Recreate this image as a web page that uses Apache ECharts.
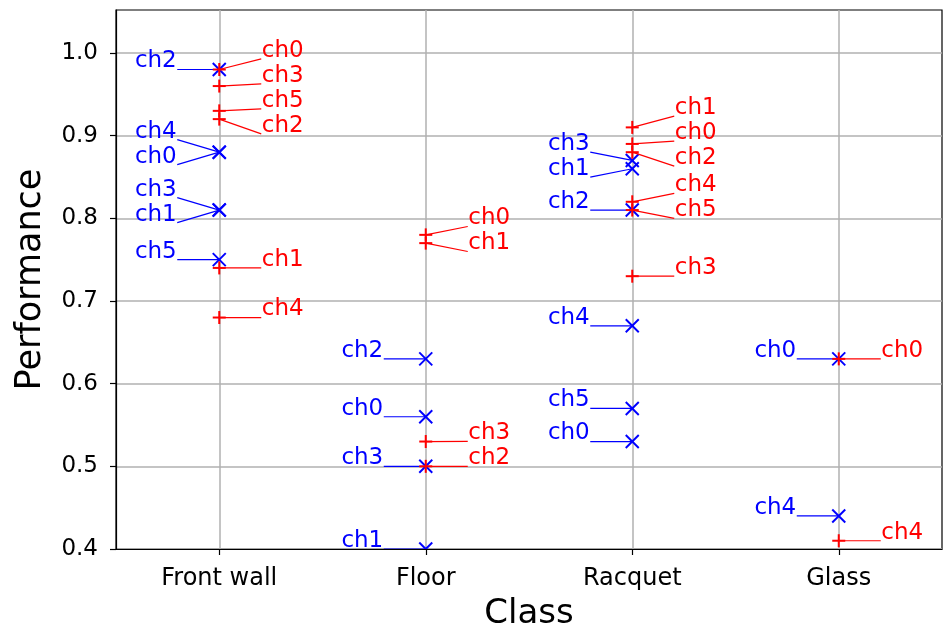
<!DOCTYPE html>
<html>
<head>
<meta charset="utf-8">
<script src="https://cdn.jsdelivr.net/npm/echarts@6/dist/echarts.min.js"></script>
<style>html,body{margin:0;padding:0;background:#fff}#c{width:943px;height:629px}</style>
</head>
<body>
<div id="c"></div>
<script>
// ---- data ----
const categories = ['Front wall', 'Floor', 'Racquet', 'Glass'];
const channels = ['ch0', 'ch1', 'ch2', 'ch3', 'ch4', 'ch5'];
const yTicks = [0.4, 0.5, 0.6, 0.7, 0.8, 0.9, 1.0];

// blue 'x' series, values per channel ch0..ch5 (null = not shown)
const frontWallBlue = [0.88, 0.81, 0.98, 0.81, 0.88, 0.75];
const floorBlue     = [0.56, 0.40, 0.63, 0.50, null, null];
const racquetBlue   = [0.53, 0.86, 0.81, 0.87, 0.67, 0.57];
const glassBlue     = [0.63, null, null, null, 0.44, null];

// red '+' series
const frontWallRed = [0.98, 0.74, 0.92, 0.96, 0.68, 0.93];
const floorRed     = [0.78, 0.77, 0.50, 0.53, null, null];
const racquetRed   = [0.89, 0.91, 0.88, 0.73, 0.82, 0.81];
const glassRed     = [0.63, null, null, null, 0.41, null];

const blueSets = [frontWallBlue, floorBlue, racquetBlue, glassBlue];
const redSets = [frontWallRed, floorRed, racquetRed, glassRed];

function buildData(sets) {
  const out = [];
  sets.forEach((vals, ci) => vals.forEach((v, chi) => { if (v != null) out.push([ci, v, chi]); }));
  return out;
}
const blueData = buildData(blueSets);
const redData = buildData(redSets);

const FONT = 'DejaVu Sans';
const LABEL_DX = 42, LABEL_DY = 8, GAP = 25;

// spread labels of one category/side so they do not overlap
function layout(api, data, cat) {
  const items = data.map((d, i) => ({ d, i })).filter(o => o.d[0] === cat);
  items.sort((a, b) => (b.d[1] - a.d[1]) || (b.d[2] - a.d[2]));
  const desired = items.map(o => api.coord([o.d[0], o.d[1]])[1] - LABEL_DY);
  let clusters = [];
  items.forEach((o, k) => {
    let c = { idx: [k], n: 1, top: desired[k] };
    clusters.push(c);
    while (clusters.length > 1) {
      const a = clusters[clusters.length - 2], b = clusters[clusters.length - 1];
      if (a.top + a.n * GAP > b.top) {
        const m = { idx: a.idx.concat(b.idx), n: a.n + b.n };
        let s = 0;
        m.idx.forEach((kk, j) => { s += desired[kk] - j * GAP; });
        m.top = s / m.n;
        clusters.splice(clusters.length - 2, 2, m);
      } else break;
    }
  });
  const pos = {};
  clusters.forEach(c => c.idx.forEach((kk, j) => { pos[items[kk].i] = c.top + j * GAP; }));
  return pos;
}

function makeRender(data, color, side, shape) {
  return function (params, api) {
    const d = data[params.dataIndex];
    const p = api.coord([d[0], d[1]]);
    const pos = layout(api, data, d[0]);
    const ly = pos[params.dataIndex];
    const s = 6.5;
    const lineStyle = { stroke: color, lineWidth: 2 };
    const marker = shape === 'x'
      ? [
          { type: 'line', shape: { x1: p[0] - s, y1: p[1] - s, x2: p[0] + s, y2: p[1] + s }, style: lineStyle },
          { type: 'line', shape: { x1: p[0] - s, y1: p[1] + s, x2: p[0] + s, y2: p[1] - s }, style: lineStyle }
        ]
      : [
          { type: 'line', shape: { x1: p[0] - s, y1: p[1], x2: p[0] + s, y2: p[1] }, style: lineStyle },
          { type: 'line', shape: { x1: p[0], y1: p[1] - s, x2: p[0], y2: p[1] + s }, style: lineStyle }
        ];
    const ex = p[0] + side * LABEL_DX;
    return {
      type: 'group',
      children: [
        { type: 'line', shape: { x1: p[0], y1: p[1], x2: ex, y2: ly + LABEL_DY }, style: { stroke: color, lineWidth: 1.2 } },
        ...marker,
        { type: 'text', style: { x: ex + side * 0.5, y: ly, text: channels[d[2]], fill: color,
            font: '23px "' + FONT + '"', align: side < 0 ? 'right' : 'left', verticalAlign: 'middle' } }
      ]
    };
  };
}

const chart = echarts.init(document.getElementById('c'), null, { renderer: 'canvas' });
chart.setOption({
  animation: false,
  backgroundColor: '#fff',
  grid: { left: 116, right: 1, top: 10, bottom: 80, show: true, borderColor: '#000', borderWidth: 1.2,
          containLabel: false, outerBoundsMode: 'none' },
  xAxis: {
    type: 'category',
    data: categories,
    name: 'Class',
    nameLocation: 'middle',
    nameGap: 48,
    nameTextStyle: { fontFamily: FONT, fontSize: 34, color: '#000' },
    axisLine: { lineStyle: { color: '#000', width: 1.2 } },
    axisTick: { show: true, alignWithLabel: true, length: 6, lineStyle: { color: '#000', width: 1.2 } },
    axisLabel: { fontFamily: FONT, fontSize: 24, color: '#000', margin: 18 },
    splitLine: { show: true, alignWithLabel: true, lineStyle: { color: '#b0b0b0', width: 1.5 } }
  },
  yAxis: {
    type: 'value',
    min: 0.4,
    max: 1.052,
    interval: 0.1,
    name: 'Performance',
    nameLocation: 'middle',
    nameGap: 68,
    nameTextStyle: { fontFamily: FONT, fontSize: 35, color: '#000' },
    axisLine: { show: true, lineStyle: { color: '#000', width: 1.2 } },
    axisTick: { show: true, length: 6, customValues: yTicks, lineStyle: { color: '#000', width: 1.2 } },
    axisLabel: {
      fontFamily: FONT, fontSize: 23, color: '#000', margin: 18,
      customValues: yTicks,
      formatter: v => {
        const t = yTicks.find(y => Math.abs(y - v) < 1e-6);
        return t === undefined ? '' : t.toFixed(1);
      }
    },
    splitLine: { show: true, lineStyle: { color: '#b0b0b0', width: 1.5 } }
  },
  series: [
    { type: 'custom', name: 'blue', data: blueData, clip: true, renderItem: makeRender(blueData, '#0000ff', -1, 'x') },
    { type: 'custom', name: 'red', data: redData, clip: true, renderItem: makeRender(redData, '#ff0000', 1, '+') }
  ]
});
</script>
</body>
</html>
